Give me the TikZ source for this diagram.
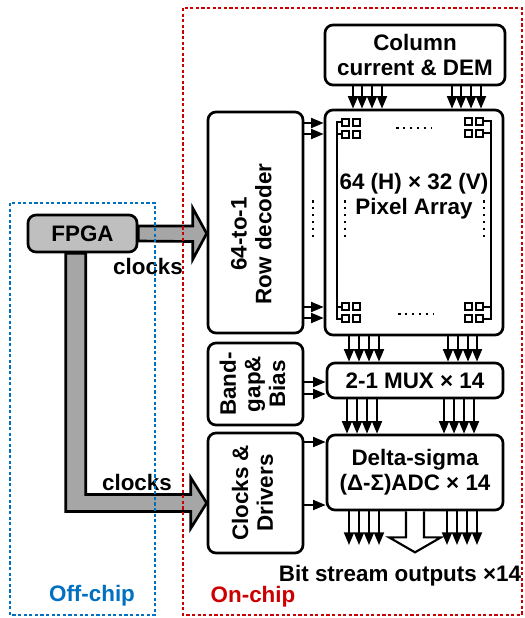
\documentclass[tikz,border=0pt]{standalone}
\usepackage{fontspec}
\setmainfont{Liberation Sans}
\usepackage{graphicx}
\usetikzlibrary{arrows.meta,calc,positioning}
\definecolor{offblue}{RGB}{0,112,192}
\definecolor{onred}{RGB}{204,0,0}
\newcommand{\vlab}[1]{\rotatebox{90}{\begin{tabular}{@{}c@{}}#1\end{tabular}}}
\tikzset{
	blk/.style={draw, line width=2pt, rounded corners=6pt, inner sep=0pt, align=center},
	txt/.style={font=\fontsize{16.8}{18.5}\selectfont\bfseries},
	sig/.style={line width=1.5pt, -{Triangle[length=9.5pt,width=7.5pt]}},
	fat/.style={draw, line width=2pt, fill=gray!70},
	dotrow/.style={line width=1.9pt, dash pattern=on 1.9pt off 3.3pt},
	pxsq/.style={line width=1.7pt},
	frame/.style={line width=2.2pt, dash pattern=on 2.4pt off 1.8pt}
}

\begin{document}
\begin{tikzpicture}[x=0.75pt, y=-0.75pt]
	\useasboundingbox (0,0) rectangle (525,618);
	\node[blk, txt, minimum width=135pt, minimum height=45pt] (col) at (415,55) {Column\\current \& DEM};
	\node[blk, minimum width=133.5pt, minimum height=168.75pt] (pix) at (414,222.5) {};
	\node[txt, align=center] (pixtxt) at (414,196) {64 (H) × 32 (V)\\Pixel Array};
	\node[blk, txt, minimum width=132pt, minimum height=26.25pt] (mux) at (415,380.5) {2-1 MUX × 14};
	\node[blk, txt, minimum width=132pt, minimum height=56.25pt] (adc) at (415,472.5) {Delta-sigma\\(Δ-Σ)ADC × 14};
	\node[blk, minimum width=71.25pt, minimum height=165.75pt] (dec) at (255.5,222.5) {};
	\node[txt] (dectxt) at (254,234) {\vlab{64-to-1\\Row decoder}};
	\node[blk, txt, minimum width=71.25pt, minimum height=61.5pt] (bg) at (255.5,384) {\vlab{Band-\\gap\&\\Bias}};
	\node[blk, txt, minimum width=71.25pt, minimum height=90pt] (clk) at (255.5,493) {\vlab{Clocks \&\\Drivers}};
	\node[blk, txt, fill=gray!50, minimum width=81.75pt, minimum height=27.75pt] (fpga) at (82.5,233.5) {FPGA};
	\coordinate (outs) at (415,545);
	\coordinate (tipa) at (dec.west |- fpga.east);
	\coordinate (tipb) at ($(clk.west)+(0,10)$);

	\foreach \gx/\gy in {342/119, 465/118, 342/303, 465/303}
		\foreach \i in {0,1}
			\foreach \j in {0,1}
				\draw[pxsq] (\gx+\i*11,\gy+\j*12) rectangle ++(7,7);
	\draw[pxsq] (342,122) -- (337,122) -- (337,319) -- (342,319);
	\draw[pxsq] (342,134) -- (337,134);
	\draw[pxsq] (337,307) -- (342,307);
	\draw[pxsq] (483,121) -- (491,121) -- (491,319) -- (483,319);
	\draw[pxsq] (483,133) -- (491,133);
	\draw[pxsq] (491,307) -- (483,307);
	\draw[dotrow] (396,128) -- (432,128);
	\draw[dotrow] (398,314) -- (434,314);
	\draw[dotrow] (345,200) -- (345,238);
	\draw[dotrow] (484,200) -- (484,238);
	\draw[dotrow] (313,200) -- (313,238);

	\foreach \x in {353,362,372,382,452,461,471,481}
		\draw[sig] (col.south -| \x,0) -- (pix.north -| \x,0);
	\foreach \x in {349,359,369,379,448,458,468,477}
		\draw[sig] (pix.south -| \x,0) -- (mux.north -| \x,0);
	\foreach \x in {347,357,367,377,444,454,464,474}
		\draw[sig] (mux.south -| \x,0) -- (adc.north -| \x,0);
	\foreach \x in {349,359,369,379,447,457,467,477}
		\draw[sig] (adc.south -| \x,0) -- (outs -| \x,0);
	\foreach \y in {123,134,307,318}
		\draw[sig] (dec.east |- 0,\y) -- (pix.west |- 0,\y);
	\foreach \y in {382,394}
		\draw[sig] (bg.east |- 0,\y) -- (mux.west |- 0,\y);
	\foreach \y in {442,505}
		\draw[sig] (clk.east |- 0,\y) -- (adc.west |- 0,\y);
	\draw[line width=1.6pt, fill=white] ($(adc.south)+(-9,0)$) -- ++(0,26) -- ++(-17,0) -- ++(26,15) -- ++(26,-15) -- ++(-17,0) -- ++(0,-26);

	\draw[fat] ($(fpga.east)+(0,-7.5)$) -- ($(tipa)+(-14,-7.5)$) -- ++(0,-18) -- (tipa) -- ++(-14,26) -- ++(0,-18) -- ($(fpga.east)+(0,7.5)$) -- cycle;
	\draw[fat] ($(fpga.south west)+(39,0)$) |- ($(tipb)+(-16,8.5)$) -- ++(0,17) -- (tipb) -- ++(-16,-25.5) -- ++(0,17) -| ($(fpga.south west)+(59,0)$) -- cycle;

	\node[txt] (clka) at (148,266) {clocks};
	\node[txt] (clkb) at (137,482) {clocks};
	\node[txt] (bits) at (400,576) {Bit stream outputs ×14};
	\node[txt, text=offblue] (offl) at (92,596) {Off-chip};
	\node[txt, text=onred] (onl) at (253,597) {On-chip};
	\draw[frame, offblue] (10,203) rectangle (155,615);
	\draw[frame, onred] (183,8) rectangle (522,615);
\end{tikzpicture}
\end{document}
